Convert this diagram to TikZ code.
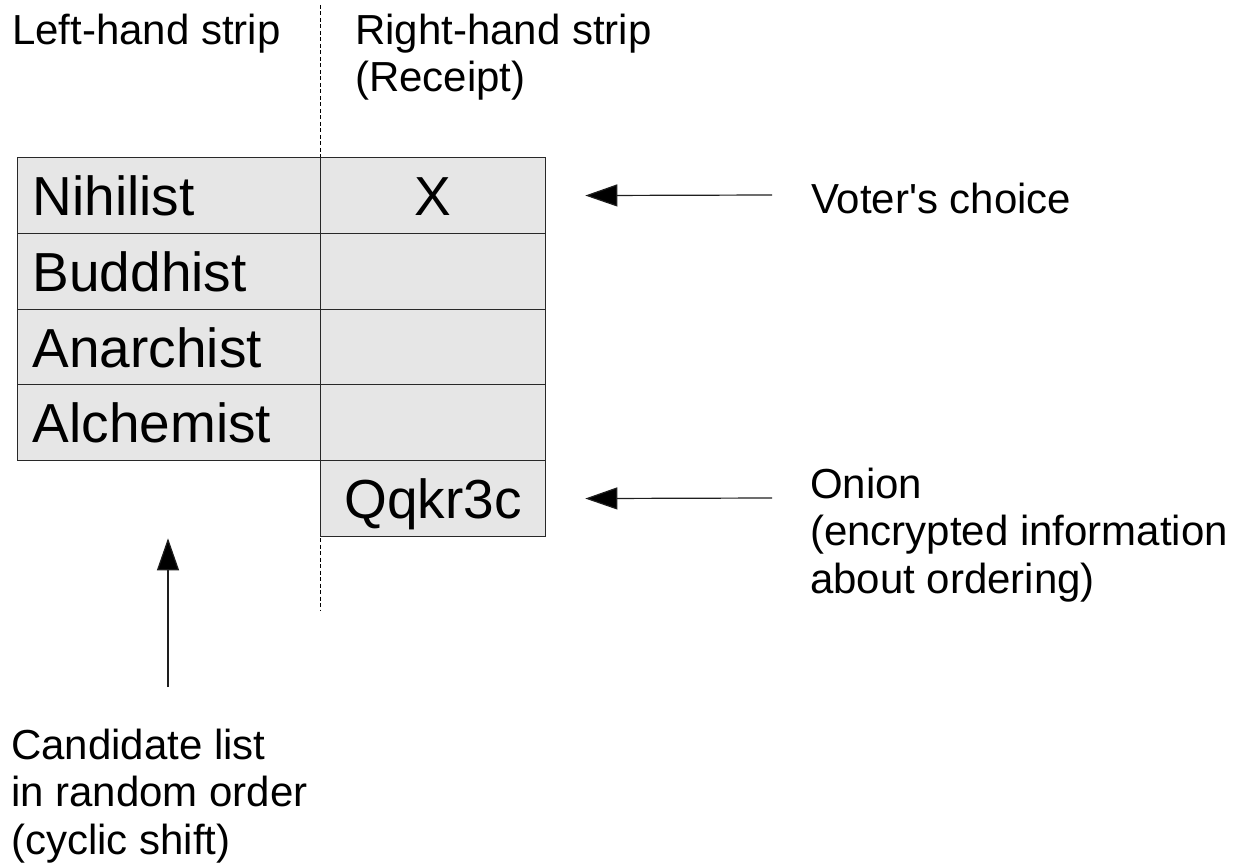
\documentclass[tikz,border=0pt]{standalone}
\usepackage{fontspec}
\setmainfont{Liberation Sans}
\usetikzlibrary{arrows.meta}
\definecolor{cellgray}{RGB}{230,230,230}
\definecolor{edgegray}{RGB}{40,40,40}
\definecolor{arrowgray}{RGB}{30,30,30}
\tikzset{
  cellbox/.style={draw=edgegray, line width=1.3pt, fill=cellgray, anchor=north west,
    inner sep=0pt, minimum height=76pt, text height=39pt, text depth=0pt,
    font=\fontsize{55}{61}\selectfont},
  leftcell/.style={cellbox, minimum width=303pt, text width=273pt, inner xsep=15pt, align=left},
  rightcell/.style={cellbox, minimum width=225pt, align=center},
  label/.style={anchor=north west, inner sep=0pt, align=left,
    font=\fontsize{42}{47.5}\selectfont},
  pointer/.style={draw=arrowgray, line width=1.2pt,
    -{Triangle[length=32pt,width=22pt,fill=black]}},
  divider/.style={draw=black, line width=1pt, dash pattern=on 4pt off 2.5pt}
}
\begin{document}
\begin{tikzpicture}[x=1pt,y=-1pt]
\useasboundingbox (0,0) rectangle (1244,866);
% dashed separation line between strips
\coordinate (dtop) at (320,5);
\coordinate (dbot) at (320,611);
\draw[divider] (dtop) -- (dbot);
% headings
\node[label] (lh) at (12,10.75) {\strut Left-hand strip};
\node[label] (rh) at (355,10.75) {\strut Right-hand strip\\(Receipt)};
% left strip
\node[leftcell] (a1) at (17,157) {Nihilist};
\node[leftcell] (a2) at (17,233) {Buddhist};
\node[leftcell] (a3) at (17,309) {Anarchist};
\node[leftcell] (a4) at (17,384) {Alchemist};
% right strip
\node[rightcell] (b1) at (320,157) {X};
\node[rightcell] (b2) at (320,233) {};
\node[rightcell] (b3) at (320,309) {};
\node[rightcell] (b4) at (320,384) {};
\node[rightcell] (q) at (320,460) {Qqkr3c};
% annotations
\node[label] (voter) at (811,179.75) {\strut Voter\textquotesingle s choice};
\node[label] (onion) at (810,464.75) {\strut Onion\\(encrypted information\\about ordering)};
\node[label] (cand) at (11,725.75) {\strut Candidate list\\in random order\\(cyclic shift)};
% arrows
\coordinate (vtail) at (772,195);
\coordinate (otail) at (772,498);
\coordinate (ctail) at (168,687);
\draw[pointer, shorten >=39pt] (vtail) -- (b1.east);
\draw[pointer, shorten >=39pt] (otail) -- (q.east);
\draw[pointer, shorten >=77pt] (ctail) -- (ctail |- a4.south);
\end{tikzpicture}
\end{document}
